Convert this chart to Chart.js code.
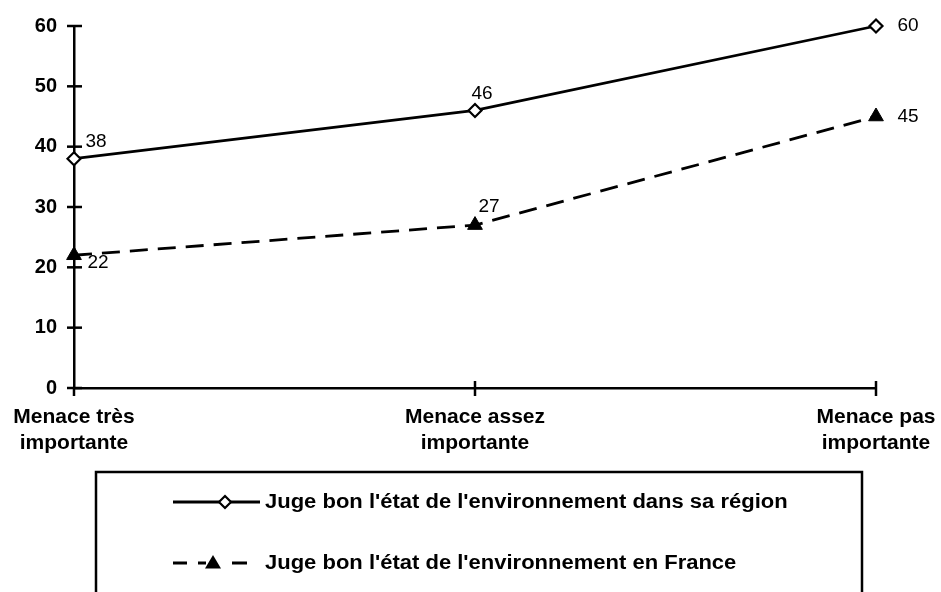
<!DOCTYPE html>
<html><head><meta charset="utf-8">
<script src="https://cdn.jsdelivr.net/npm/chart.js@4.4.0/dist/chart.umd.min.js"></script>
<style>html,body{margin:0;padding:0;background:#fff;} #wrap{width:941px;height:592px;position:relative;}</style>
</head><body><div id="wrap"><canvas id="c" width="941" height="592"></canvas></div>
<script>
// ---- data ----
const categories = [['Menace très', 'importante'], ['Menace assez', 'importante'], ['Menace pas', 'importante']];
const seriesNames = ["Juge bon l'état de l'environnement dans sa région", "Juge bon l'état de l'environnement en France"];
const regionValues = [38, 46, 60];
const franceValues = [22, 27, 45];
const yMin = 0, yMax = 60, yStep = 10;

// ---- styles ----
const FONT = "'Liberation Sans', Arial, Helvetica, sans-serif";
const labelOffsets = [
  [[22, -17], [7, -17], [32, 0]],
  [[24, 7], [14, -18], [32, 0]]
];

const crossTicks = {
  id: 'crossTicks',
  beforeDatasetsDraw(chart) {
    const ctx = chart.ctx, xs = chart.scales.x, ys = chart.scales.y;
    ctx.save();
    ctx.strokeStyle = '#000'; ctx.lineWidth = 2.5;
    ys.ticks.forEach(t => {
      const py = ys.getPixelForValue(t.value);
      ctx.beginPath(); ctx.moveTo(xs.left - 7, py); ctx.lineTo(xs.left + 8, py); ctx.stroke();
    });
    xs.ticks.forEach((t, i) => {
      const px = xs.getPixelForValue(i);
      ctx.beginPath(); ctx.moveTo(px, ys.bottom - (i === 0 ? 0 : 7)); ctx.lineTo(px, ys.bottom + 8); ctx.stroke();
    });
    ctx.restore();
  }
};

const valueLabels = {
  id: 'valueLabels',
  afterDatasetsDraw(chart) {
    const ctx = chart.ctx;
    ctx.save();
    ctx.fillStyle = '#000';
    ctx.font = "19px " + FONT;
    ctx.textAlign = 'center'; ctx.textBaseline = 'middle';
    chart.data.datasets.forEach((ds, di) => {
      const meta = chart.getDatasetMeta(di);
      meta.data.forEach((pt, i) => {
        const o = labelOffsets[di][i];
        ctx.fillText(String(ds.data[i]), pt.x + o[0], pt.y + o[1]);
      });
    });
    ctx.restore();
  }
};

const boxLegend = {
  id: 'boxLegend',
  afterDraw(chart) {
    const ctx = chart.ctx;
    ctx.save();
    ctx.strokeStyle = '#000'; ctx.lineWidth = 2.5;
    ctx.strokeRect(96, 472, 766, 140);
    const rows = [502, 563];
    chart.data.datasets.forEach((ds, di) => {
      const y = rows[di];
      ctx.strokeStyle = '#000'; ctx.lineWidth = 2.8;
      if (di === 0) {
        ctx.beginPath(); ctx.moveTo(173, y); ctx.lineTo(260, y); ctx.stroke();
        const cx = 225, r = 6;
        ctx.beginPath(); ctx.moveTo(cx, y - r); ctx.lineTo(cx + r, y); ctx.lineTo(cx, y + r); ctx.lineTo(cx - r, y); ctx.closePath();
        ctx.fillStyle = '#fff'; ctx.fill(); ctx.lineWidth = 2.2; ctx.stroke();
      } else {
        ctx.beginPath();
        [[173, 187], [198, 206], [232, 247]].forEach(s => { ctx.moveTo(s[0], y); ctx.lineTo(s[1], y); });
        ctx.stroke();
        const cx = 213, r = 8;
        ctx.beginPath(); ctx.moveTo(cx, y - r); ctx.lineTo(cx + r, y + r * 0.7); ctx.lineTo(cx - r, y + r * 0.7); ctx.closePath();
        ctx.fillStyle = '#000'; ctx.fill();
      }
      ctx.fillStyle = '#000';
      ctx.font = "bold 20px " + FONT;
      ctx.textAlign = 'left'; ctx.textBaseline = 'middle';
      ctx.save();
      ctx.translate(265, y);
      ctx.scale(1.1, 1);
      ctx.fillText(ds.label, 0, 0);
      ctx.restore();
    });
    ctx.restore();
  }
};

new Chart(document.getElementById('c'), {
  type: 'line',
  data: {
    labels: categories,
    datasets: [
      {
        label: seriesNames[0], data: regionValues,
        borderColor: '#000', borderWidth: 2.8, backgroundColor: '#fff',
        pointStyle: 'rectRot', pointRadius: 6.5, pointBorderWidth: 2.2,
        pointBackgroundColor: '#fff', pointBorderColor: '#000', tension: 0, clip: false
      },
      {
        label: seriesNames[1], data: franceValues,
        borderColor: '#000', borderWidth: 2.8, borderDash: [18, 10],
        pointStyle: 'triangle', pointRadius: 8.5, pointBorderWidth: 1,
        pointBackgroundColor: '#000', pointBorderColor: '#000', tension: 0, clip: false
      }
    ]
  },
  options: {
    responsive: false, animation: false, devicePixelRatio: 1,
    layout: { padding: { top: 26, right: 65, left: 0, bottom: 0 } },
    plugins: { legend: { display: false }, tooltip: { enabled: false } },
    scales: {
      x: {
        offset: false,
        grid: { display: false, drawTicks: true, tickLength: 17 },
        border: { display: true, color: '#000', width: 2.5 },
        ticks: { color: '#000', padding: 0, maxRotation: 0, autoSkip: false,
          font: { family: FONT, size: 21, weight: 'bold', lineHeight: 1.2 } },
        afterFit(s) { s.height = 204; }
      },
      y: {
        min: yMin, max: yMax,
        grid: { display: false, drawTicks: true, tickLength: 17 },
        border: { display: true, color: '#000', width: 2.5 },
        ticks: { stepSize: yStep, color: '#000', padding: 0,
          font: { family: FONT, size: 20, weight: 'bold' } },
        afterFit(s) { s.width = 74; }
      }
    }
  },
  plugins: [crossTicks, valueLabels, boxLegend]
});
</script>
</body></html>
